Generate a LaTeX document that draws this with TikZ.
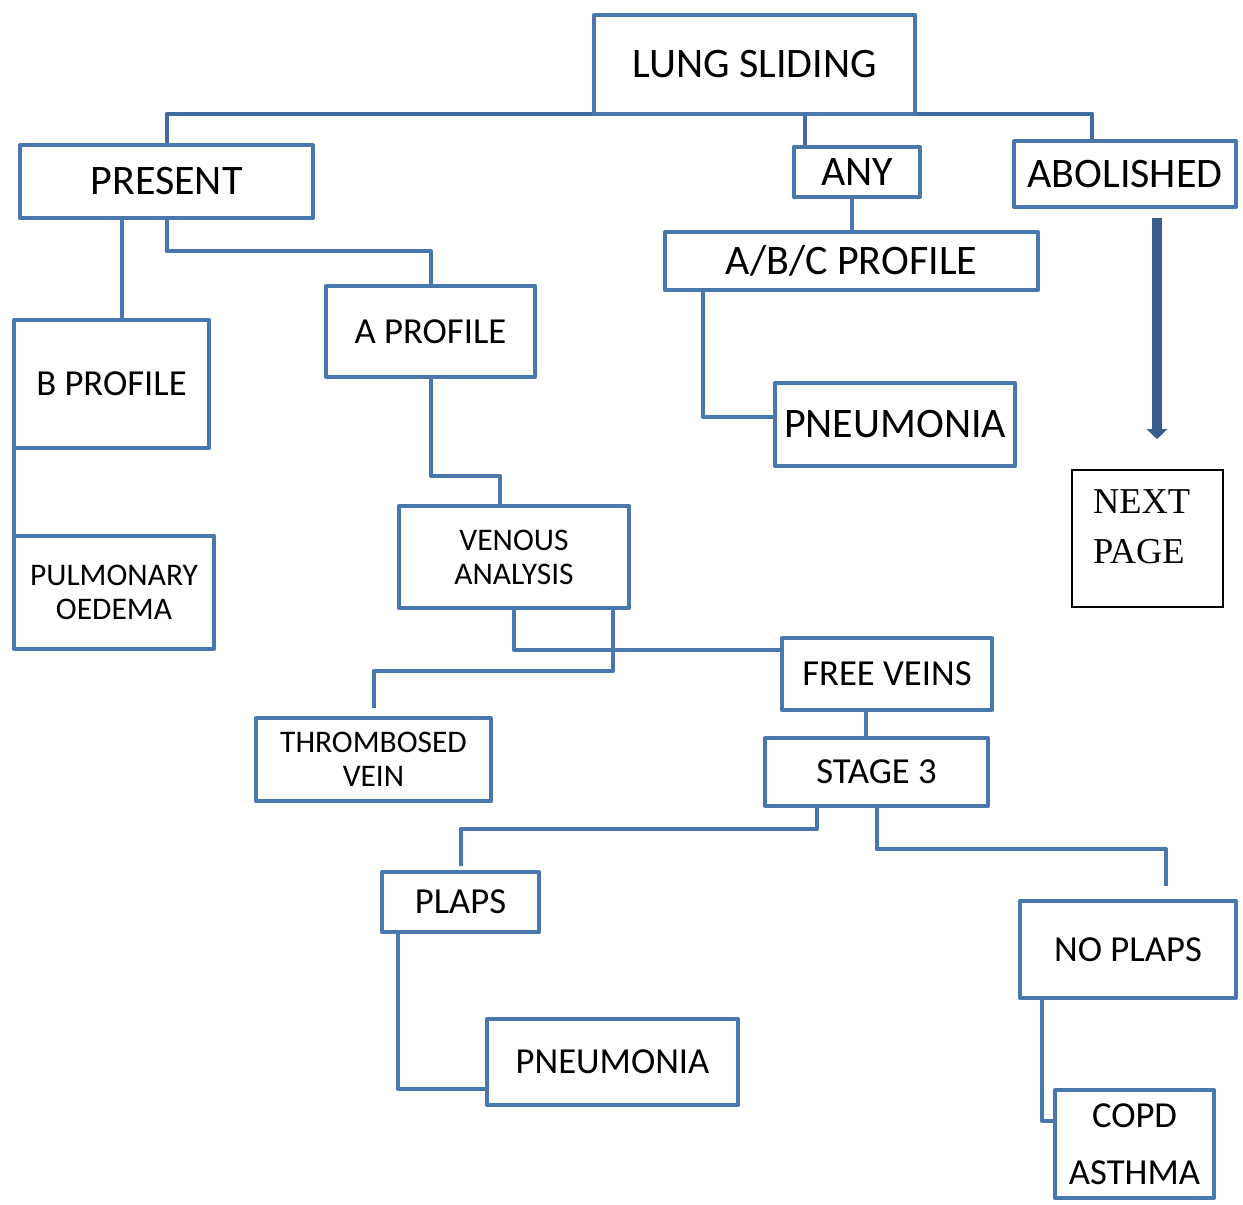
\documentclass[tikz,border=0pt]{standalone}
\usepackage{fontspec}
\setmainfont{Carlito}
\newfontfamily\timesf{Liberation Serif}
\usetikzlibrary{calc,arrows.meta,backgrounds}
\definecolor{boxblue}{RGB}{74,118,174}
\definecolor{busblue}{RGB}{66,106,158}
\definecolor{arrowblue}{RGB}{58,94,140}
\begin{document}
\begin{tikzpicture}[x=0.75pt,y=-0.75pt,
  box/.style={draw=boxblue,line width=3pt,rectangle,inner sep=0pt,outer sep=0pt,align=center,text=black,line join=round},
  big/.style={font=\fontsize{31.5}{36}\selectfont},
  mid/.style={font=\fontsize{27.5}{33}\selectfont},
  small/.style={font=\fontsize{23.6}{25.5}\selectfont},
  link/.style={draw=boxblue,line width=3pt,line join=round},
  bus/.style={draw=busblue,line width=3pt,line join=round},
  nextbox/.style={draw=black,line width=1.2pt,rectangle,inner sep=0pt}]
\useasboundingbox (0,0) rectangle (1243,1205);

% nodes
\node[box,big,minimum width=240.75pt,minimum height=74.25pt] (ls) at (754.5,64.5) {LUNG SLIDING};
\node[box,big,minimum width=219.75pt,minimum height=54.75pt] (present) at (166.5,181.5) {PRESENT};
\node[box,big,minimum width=94.5pt,minimum height=37.5pt] (any) at (857,172) {ANY};
\node[box,big,minimum width=166.5pt,minimum height=49.5pt] (abol) at (1125,174) {ABOLISHED};
\node[box,big,minimum width=279.75pt,minimum height=43.5pt] (abc) at (851.5,261) {A/B/C PROFILE};
\node[box,big,minimum width=180pt,minimum height=62.25pt] (pneu1) at (895,424.5) {PNEUMONIA};
\node[nextbox] (next) at (1147.5,538.5) {\parbox[c][102.75pt][t]{113.25pt}{\raggedright\leftskip=15.75pt\timesf\fontsize{27.3}{37.5}\selectfont\rule{0pt}{32.25pt}NEXT\\PAGE}};
\node[box,mid,minimum width=146.25pt,minimum height=96pt] (bprof) at (111.5,384) {B PROFILE};
\node[box,mid,minimum width=156.75pt,minimum height=68.25pt] (aprof) at (430.5,331.5) {A PROFILE};
\node[box,small,minimum width=172.5pt,minimum height=76.5pt] (venous) at (514,557) {VENOUS\\ANALYSIS};
\node[box,small,minimum width=150pt,minimum height=84.75pt] (pulm) at (114,592.5) {PULMONARY\\OEDEMA};
\node[box,small,minimum width=176.25pt,minimum height=62.25pt] (throm) at (373.5,759.5) {THROMBOSED\\VEIN};
\node[box,mid,minimum width=157.5pt,minimum height=54pt] (free) at (887,674) {FREE VEINS};
\node[box,mid,minimum width=167.25pt,minimum height=51pt] (stage) at (876.5,772) {STAGE 3};
\node[box,mid,minimum width=117.75pt,minimum height=45pt] (plaps) at (460.5,902) {PLAPS};
\node[box,mid,minimum width=188.25pt,minimum height=64.5pt] (pneu2) at (612.5,1062) {PNEUMONIA};
\node[box,mid,minimum width=162pt,minimum height=72.75pt] (noplaps) at (1128,949.5) {NO PLAPS};
\node[box,font=\fontsize{27.5}{42.75}\selectfont,minimum width=119.25pt,minimum height=81pt] (copd) at (1134.5,1144) {COPD\\ASTHMA};

% connectors
\begin{pgfonlayer}{background}
\draw[bus] (present.north) |- (ls.south) -| ($(abol.north)+(-33,0)$);
\coordinate (anytop) at ($(any.north)+(-52,0)$);
\draw[bus] (anytop |- ls.south) -- (anytop);
\draw[link] (any.south -| abc.north) -- (abc.north);
\draw[link] ($(abc.south)+(-148.5,0)$) |- ($(pneu1.west)+(0,-7.5)$);
\draw[link] ($(present.south)+(-44.5,0)$) -- ($(bprof.north)+(10.5,0)$);
\draw[link] (present.south) -- ++(0,33) -| (aprof.north);
\draw[link] (aprof.south) -- ++(0,99) -| ($(venous.north)+(-14,0)$);
\draw[link] (bprof.south west) -- (bprof.south west |- pulm.north);
\draw[link] (venous.south) |- ($(free.west)+(0,-24)$);
\draw[link] ($(venous.south)+(99,0)$) -- ++(0,63) -| ($(throm.north)+(0,-10)$);
\coordinate (fs) at ($(free.south)+(-21,0)$);
\draw[link] (fs) -- (fs |- stage.north);
\draw[link] ($(stage.south)+(-59.5,0)$) -- ++(0,23) -| ($(plaps.north)+(0,-6)$);
\draw[link] (stage.south) -- ++(0,43) -| ($(noplaps.north)+(38,-15)$);
\draw[link] ($(plaps.south)+(-62.5,0)$) |- ($(pneu2.west)+(0,27)$);
\draw[link] ($(noplaps.south)+(-86,0)$) |- ($(copd.west)+(0,-23)$);
\end{pgfonlayer}
\draw[arrowblue,line width=7pt,-{Triangle[length=7.5pt,width=15pt]}] ($(abol.south)+(32,11)$) -- ($(next.north)+(9.5,-30)$);
\end{tikzpicture}
\end{document}
